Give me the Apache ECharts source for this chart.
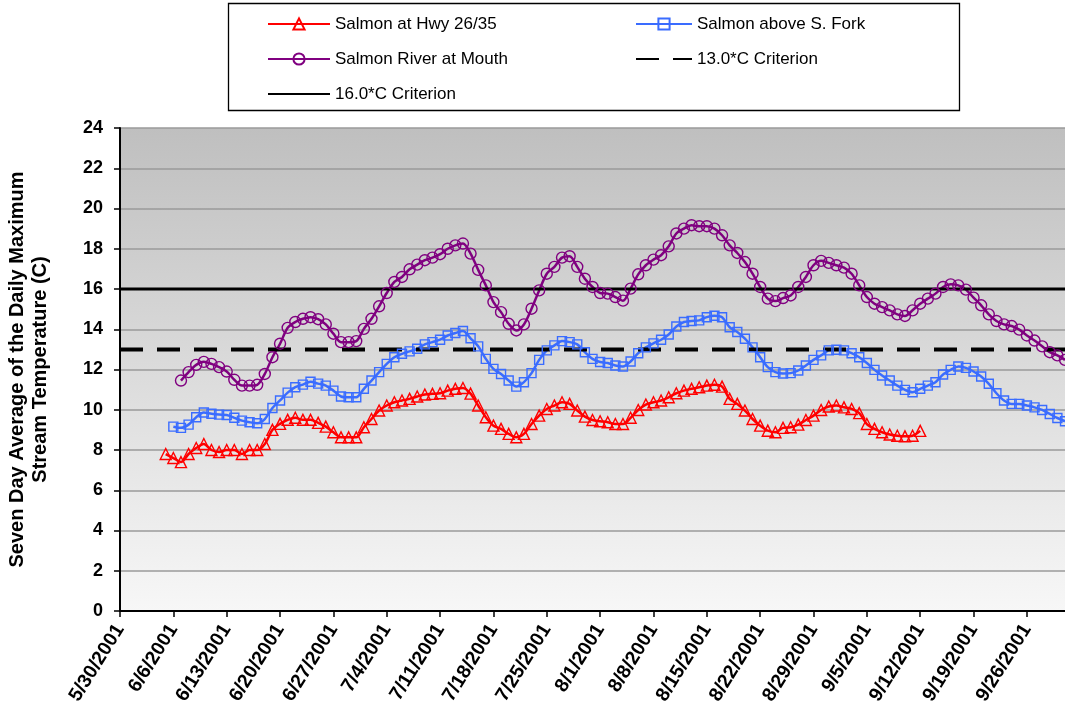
<!DOCTYPE html>
<html lang="en">
<head>
  <meta charset="UTF-8">
  <title>Salmon River 7-day max temperature</title>
  <style>
    html, body {
      margin: 0;
      padding: 0;
      background: #fff;
    }

    #chart {
      width: 1065px;
      height: 727px;
    }
  </style>
</head>
<body>
  <div id="chart"></div>
  <script src="https://cdn.jsdelivr.net/npm/echarts@6/dist/echarts.min.js"></script>
  <script>
    // day 0 = 5/30/2001, one value per day
    var firstDay = [2001, 4, 30]
    var axisDays = [0, 124]
    var tickStep = 7

    var hwyStart = 6
    var hwyTemps = [
      7.8, 7.6, 7.4, 7.8, 8.1, 8.3, 8.0, 7.9, 8.0, 8.0,
      7.8, 8.0, 8.0, 8.3, 9.0, 9.3, 9.5, 9.6, 9.5, 9.5,
      9.35, 9.16, 8.88, 8.63, 8.63, 8.63, 9.13, 9.54, 9.96, 10.21,
      10.37, 10.46, 10.54, 10.66, 10.76, 10.79, 10.82, 10.95, 11.04, 11.08,
      10.8, 10.21, 9.63, 9.21, 9.05, 8.8, 8.63, 8.8, 9.29, 9.71,
      10.04, 10.21, 10.37, 10.29, 9.96, 9.66, 9.49, 9.43, 9.38, 9.29,
      9.29, 9.6, 9.99, 10.26, 10.37, 10.46, 10.62, 10.82, 10.95, 11.04,
      11.12, 11.2, 11.24, 11.15, 10.54, 10.29, 9.96, 9.54, 9.21, 8.96,
      8.88, 9.1, 9.13, 9.26, 9.49, 9.71, 9.99, 10.16, 10.21, 10.12,
      10.04, 9.83, 9.29, 9.05, 8.88, 8.77, 8.71, 8.68, 8.71, 8.95
    ]

    var forkStart = 7
    var forkTemps = [
      9.16, 9.1, 9.26, 9.63, 9.86, 9.8, 9.76, 9.74, 9.6, 9.46,
      9.38, 9.33, 9.54, 10.09, 10.46, 10.85, 11.12, 11.25, 11.39, 11.3,
      11.2, 10.95, 10.66, 10.62, 10.62, 11.04, 11.45, 11.87, 12.28, 12.61,
      12.78, 12.9, 13.03, 13.25, 13.36, 13.48, 13.69, 13.81, 13.91, 13.55,
      13.15, 12.53, 12.03, 11.78, 11.45, 11.15, 11.37, 11.82, 12.48, 12.95,
      13.2, 13.41, 13.36, 13.25, 12.86, 12.53, 12.37, 12.32, 12.2, 12.15,
      12.4, 12.81, 13.1, 13.3, 13.48, 13.74, 14.14, 14.36, 14.41, 14.44,
      14.6, 14.67, 14.6, 14.1, 13.86, 13.53, 13.1, 12.61, 12.12, 11.87,
      11.8, 11.82, 11.95, 12.2, 12.48, 12.7, 12.95, 12.98, 12.95, 12.81,
      12.61, 12.32, 11.98, 11.7, 11.45, 11.2, 10.99, 10.87, 11.04, 11.2,
      11.37, 11.75, 11.98, 12.15, 12.08, 11.9, 11.65, 11.29, 10.82, 10.46,
      10.29, 10.29, 10.21, 10.12, 9.99, 9.79, 9.59, 9.43
    ]

    var mouthStart = 8
    var mouthTemps = [
      11.45, 11.87, 12.23, 12.38, 12.28, 12.12, 11.9, 11.49, 11.2, 11.2,
      11.24, 11.78, 12.61, 13.28, 14.07, 14.36, 14.52, 14.6, 14.5, 14.24,
      13.78, 13.36, 13.36, 13.41, 14.02, 14.52, 15.14, 15.8, 16.35, 16.6,
      16.98, 17.21, 17.43, 17.56, 17.73, 18.0, 18.17, 18.26, 17.76, 16.95,
      16.18, 15.35, 14.85, 14.27, 13.94, 14.24, 15.02, 15.93, 16.76, 17.1,
      17.56, 17.63, 17.1, 16.51, 16.1, 15.8, 15.77, 15.6, 15.42, 16.02,
      16.73, 17.18, 17.46, 17.68, 18.12, 18.76, 19.0, 19.17, 19.12, 19.12,
      19.0, 18.67, 18.17, 17.79, 17.34, 16.76, 16.1, 15.52, 15.4, 15.55,
      15.68, 16.1, 16.6, 17.18, 17.4, 17.3, 17.18, 17.06, 16.76, 16.18,
      15.6, 15.27, 15.1, 14.94, 14.74, 14.66, 14.94, 15.27, 15.52, 15.77,
      16.1, 16.23, 16.18, 15.97, 15.57, 15.19, 14.74, 14.41, 14.24, 14.16,
      13.98, 13.69, 13.44, 13.15, 12.86, 12.7, 12.48
    ]

    var criterionNames = ['13.0*C Criterion', '16.0*C Criterion']
    var criterionValues = [13.0, 16.0]

    var seriesNames = ['Salmon at Hwy 26/35', 'Salmon above S. Fork', 'Salmon River at Mouth']

    var FONT = '"Liberation Sans", Arial, sans-serif'

    function toPoints(start, arr) {
      return arr.map(function (v, i) { return [start + i, v] })
    }

    function dayLabel(d) {
      if (d % tickStep !== 0) return ''
      var dt = new Date(firstDay[0], firstDay[1], firstDay[2] + d)
      return (dt.getMonth() + 1) + '/' + dt.getDate() + '/' + dt.getFullYear()
    }

    function tempSeries(name, start, arr, color, symbol, size) {
      return {
        name: name,
        type: 'line',
        data: toPoints(start, arr),
        smooth: 0.3,
        symbol: symbol,
        symbolSize: size,
        showAllSymbol: true,
        lineStyle: { color: color, width: 2.5 },
        itemStyle: { color: 'rgba(255,255,255,0)', borderColor: color, borderWidth: 1.4 },
        emphasis: { disabled: true }
      }
    }

    function criterionSeries(i, lineType, width) {
      return {
        name: criterionNames[i],
        type: 'line',
        data: [[axisDays[0], criterionValues[i]], [axisDays[1], criterionValues[i]]],
        symbol: 'none',
        lineStyle: { color: '#000', width: width, type: lineType },
        // keeps the legend icon a plain line
        itemStyle: { color: 'rgba(0,0,0,0)', borderColor: 'rgba(0,0,0,0)', borderWidth: 0 },
        emphasis: { disabled: true }
      }
    }

    var myChart = echarts.init(document.getElementById('chart'))

    var legendText = { fontSize: 17, color: '#000', lineHeight: 20, fontFamily: FONT }

    var option = {
      animation: false,
      textStyle: { fontFamily: FONT },
      graphic: [{
        type: 'rect',
        shape: { x: 228.5, y: 3.5, width: 731, height: 107 },
        style: { fill: '#fff', stroke: '#000', lineWidth: 1.3 },
        z: 0
      }],
      legend: [{
        left: 262,
        top: 9,
        orient: 'vertical',
        itemWidth: 62,
        itemHeight: 14,
        itemGap: 15,
        selectedMode: false,
        textStyle: legendText,
        data: [seriesNames[0], seriesNames[2], criterionNames[1]]
      }, {
        left: 630,
        top: 9,
        orient: 'vertical',
        itemWidth: 56,
        itemHeight: 14,
        itemGap: 15,
        selectedMode: false,
        textStyle: legendText,
        data: [seriesNames[1], criterionNames[0]]
      }],
      grid: {
        left: 120,
        right: 0,
        top: 128,
        bottom: 116,
        outerBoundsMode: 'none',
        show: true,
        borderWidth: 0,
        backgroundColor: new echarts.graphic.LinearGradient(0, 0, 0, 1, [
          { offset: 0, color: '#bfbfbf' },
          { offset: 1, color: '#f7f7f7' }
        ])
      },
      xAxis: {
        type: 'value',
        min: axisDays[0],
        max: axisDays[1],
        interval: tickStep,
        axisLine: { lineStyle: { color: '#000', width: 2 } },
        axisTick: { length: 6, lineStyle: { color: '#000', width: 1.5 } },
        splitLine: { show: false },
        axisLabel: {
          rotate: 58,
          margin: 15,
          showMaxLabel: false,
          color: '#000',
          fontSize: 19.5,
          fontWeight: 'bold',
          fontFamily: FONT,
          formatter: dayLabel
        }
      },
      yAxis: {
        type: 'value',
        min: 0,
        max: 24,
        interval: 2,
        name: 'Seven Day Average of the Daily Maximum\nStream Temperature (C)',
        nameLocation: 'middle',
        nameGap: 68,
        nameTextStyle: { fontSize: 20, fontWeight: 'bold', color: '#000', lineHeight: 23, fontFamily: FONT },
        axisLine: { show: true, lineStyle: { color: '#000', width: 2 } },
        axisTick: { show: true, length: 6, lineStyle: { color: '#000', width: 1.5 } },
        splitLine: { lineStyle: { color: '#9a9a9a', width: 1.5 } },
        axisLabel: {
          margin: 17,
          color: '#000',
          fontSize: 18,
          fontWeight: 'bold',
          fontFamily: FONT
        }
      },
      series: [
        tempSeries(seriesNames[0], hwyStart, hwyTemps, '#ff0000', 'triangle', 11),
        tempSeries(seriesNames[1], forkStart, forkTemps, '#3a6cff', 'rect', 9),
        tempSeries(seriesNames[2], mouthStart, mouthTemps, '#800080', 'circle', 11),
        criterionSeries(0, [23, 14], 4),
        criterionSeries(1, 'solid', 3)
      ]
    }

    myChart.setOption(option)
  </script>
</body>
</html>
